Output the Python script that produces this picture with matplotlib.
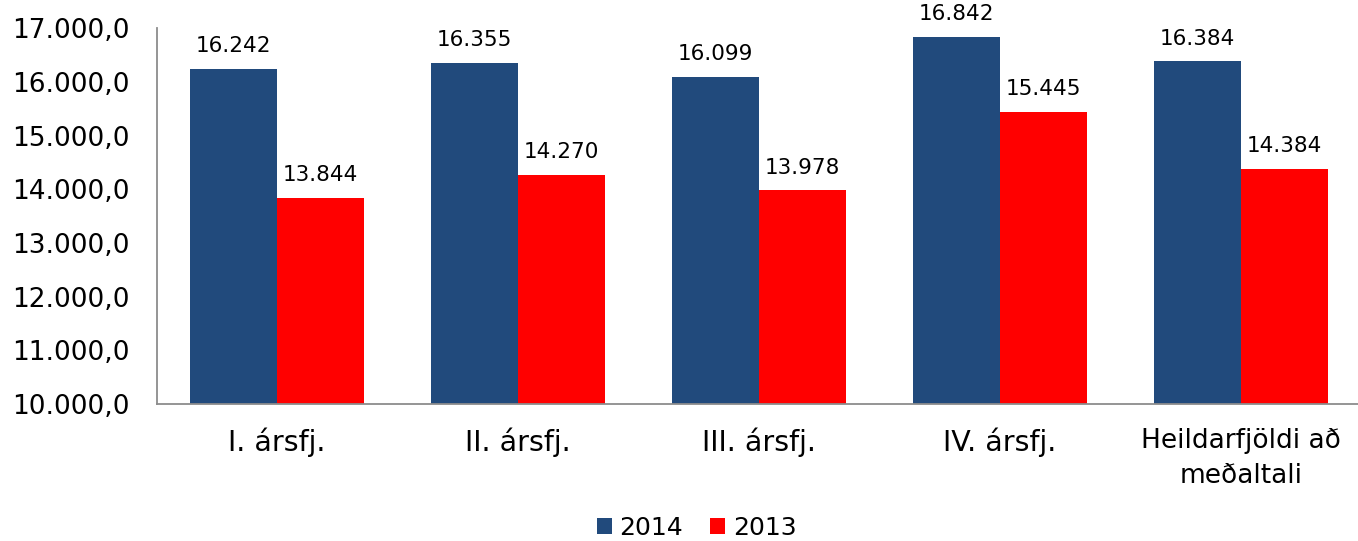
import numpy as np
import matplotlib.pyplot as plt

# --------------------------------------------------
# data
# --------------------------------------------------
categories = ["I. ársfj.", "II. ársfj.", "III. ársfj.", "IV. ársfj.",
              "Heildarfjöldi að\nmeðaltali"]
values_2014 = [16242, 16355, 16099, 16842, 16384]
values_2013 = [13844, 14270, 13978, 15445, 14384]
series_names = ["2014", "2013"]

BLUE = "#214A7C"
RED = "#FF0000"
SPINE = "#8C8C8C"


def thousands(v, decimals=0):
    s = f"{v:,.{decimals}f}"
    return s.replace(",", "X").replace(".", ",").replace("X", ".")


fig = plt.figure(figsize=(13.58, 5.41), dpi=100)
ax = fig.add_axes([156.5 / 1358, 0.2532, 1205 / 1358, 0.6948])

x = np.arange(len(categories))
w = 0.362
b1 = ax.bar(x - w / 2, values_2014, w, color=BLUE, label=series_names[0])
b2 = ax.bar(x + w / 2, values_2013, w, color=RED, label=series_names[1])

for bars in (b1, b2):
    for rect in bars:
        h = rect.get_height()
        ax.annotate(thousands(h), (rect.get_x() + rect.get_width() / 2, h),
                    xytext=(0, 9), textcoords="offset points",
                    ha="center", va="bottom", fontsize=15.5, color="black")

ax.set_xlim(-0.5, len(categories) - 0.5)
ax.set_ylim(10000, 17000)
ticks = np.arange(10000, 17001, 1000)
ax.set_yticks(ticks)
ax.set_yticklabels([thousands(t, 1) for t in ticks])
ax.set_xticks(x)
ax.set_xticklabels(categories)

ax.tick_params(axis="y", length=0, pad=19, labelsize=19)
ax.tick_params(axis="x", length=0, pad=17, labelsize=20.5)
xlabels = ax.get_xticklabels()
xlabels[-1].set_fontsize(19)
xlabels[-1].set_linespacing(1.45)

for side in ("top", "right"):
    ax.spines[side].set_visible(False)
for side in ("left", "bottom"):
    ax.spines[side].set_color(SPINE)
    ax.spines[side].set_linewidth(1.3)

fig.legend(handles=[b1, b2], labels=series_names, loc="center",
           bbox_to_anchor=(0.513, 0.024), ncol=2, frameon=False,
           fontsize=18, handlelength=0.6, handleheight=0.6,
           handletextpad=0.3, columnspacing=1.1)

fig.savefig("out.png", dpi=100)
